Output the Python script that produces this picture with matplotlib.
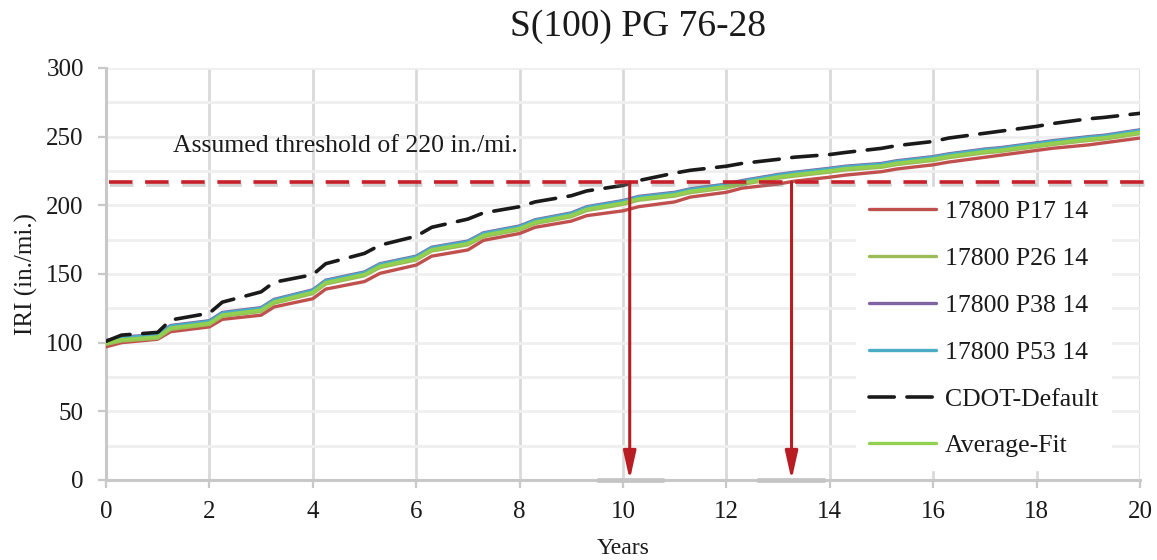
import matplotlib
matplotlib.use("Agg")
import matplotlib.pyplot as plt
import matplotlib.patheffects as pe
from matplotlib.ticker import MultipleLocator


plt.rcParams["font.family"] = ["Liberation Serif", "DejaVu Serif"]

TITLE = "S(100) PG 76-28"
THRESHOLD = 217
THRESHOLD_TEXT = "Assumed threshold of 220 in./mi."
CROSS_YEARS = [10.13, 13.26]
AXIS_MARKS = [(9.5, 10.8), (12.6, 13.9)]

YEARS = [0, 0.3, 1, 1.25, 2, 2.25, 3, 3.25, 4, 4.25, 5, 5.3, 6, 6.3, 7, 7.3,
         8, 8.3, 9, 9.3, 10, 10.3, 11, 11.3, 12, 12.3, 13, 13.3, 14, 14.3,
         15, 15.3, 16, 16.3, 17, 17.3, 18, 18.3, 19, 19.3, 20]

P17 = [97, 100, 102.5, 108, 111.5, 117, 120, 126, 132, 139, 144.5, 150.5,
       156.5, 163, 167.5, 174.5, 179.5, 184, 188.5, 192.5, 196, 199, 202.5,
       206, 209.5, 212.5, 215.5, 217.5, 220.5, 222, 224.5, 226.5, 229.5,
       231.5, 235, 236.5, 240, 241.5, 244, 245.5, 249]
P26 = [98.7, 101.2, 103.2, 109.7, 113.2, 119.2, 122.7, 128.7, 135.7, 142.7,
       148.7, 154.7, 160.2, 166.7, 171.2, 177.2, 182.2, 186.7, 191.7, 196.2,
       200.7, 203.7, 206.7, 209.2, 212.7, 215.2, 219.7, 221.2, 224.2, 225.7,
       227.7, 229.7, 232.7, 234.7, 238.2, 239.2, 242.7, 244.2, 247.2, 248.2,
       252.2]
P38 = [101.5, 104, 106, 112.5, 116, 122, 125.5, 131.5, 138.5, 145.5, 151.5,
       157.5, 163, 169.5, 174, 180, 185, 189.5, 194.5, 199, 203.5, 206.5,
       209.5, 212, 215.5, 218, 222.5, 224, 227, 228.5, 230.5, 232.5, 235.5,
       237.5, 241, 242, 245.5, 247, 250, 251, 255]
P53 = [101, 103.5, 105.5, 112, 115.5, 121.5, 125, 131, 138, 145, 151, 157,
       162.5, 169, 173.5, 179.5, 184.5, 189, 194, 198.5, 203, 206, 209, 211.5,
       215, 217.5, 222, 223.5, 226.5, 228, 230, 232, 235, 237, 240.5, 241.5,
       245, 246.5, 249.5, 250.5, 254.5]
CDOT = [101, 105.5, 107.5, 116.5, 121.5, 129.5, 137, 144, 149.5, 157.5, 165,
        171, 177.5, 184, 190, 194.5, 199, 202.5, 207, 210.5, 214.5, 218,
        223.5, 225.5, 228.5, 230.5, 233.5, 235, 237, 238.5, 241.5, 243.5,
        246.5, 249, 252.5, 254, 257.5, 259.5, 263, 264, 267]
AVG_FIT = [99.7, 102.2, 104.2, 110.7, 114.2, 120.2, 123.7, 129.7, 136.7,
           143.7, 149.7, 155.7, 161.2, 167.7, 172.2, 178.2, 183.2, 187.7,
           192.7, 197.2, 201.7, 204.7, 207.7, 210.2, 213.7, 216.2, 220.7,
           222.2, 225.2, 226.7, 228.7, 230.7, 233.7, 235.7, 239.2, 240.2,
           243.7, 245.2, 248.2, 249.2, 253.2]

SERIES = [
    ("17800 P17 14", P17, "#C0504D", "-"),
    ("17800 P26 14", P26, "#9BBB59", "-"),
    ("17800 P38 14", P38, "#8064A2", "-"),
    ("17800 P53 14", P53, "#4BACC6", "-"),
    ("CDOT-Default", CDOT, "#1A1A1A", "--"),
    ("Average-Fit", AVG_FIT, "#92D050", "-"),
]

TEXT = "#1A1A1A"
ARROW_RED = "#B81D24"

fig = plt.figure(figsize=(11.57, 5.6), dpi=100)
ax = fig.add_axes([106 / 1157, 80 / 560, 1034 / 1157, 412 / 560])

for label, vals, color, ls in SERIES:
    if ls == "--":
        ax.plot(YEARS, vals, color=color, lw=2.6, ls=(0, (7, 3.5)),
                label=label, zorder=4, dash_capstyle="round",
                dash_joinstyle="round")
    else:
        ax.plot(YEARS, vals, color=color, lw=2.4, label=label, zorder=3,
                solid_joinstyle="round", solid_capstyle="round")

# threshold line
shadow = [pe.SimpleLineShadow(offset=(1, -2), shadow_color="gray", alpha=0.35),
          pe.Normal()]
ax.plot([0.05, 20.2], [THRESHOLD, THRESHOLD], color="#C8202A", lw=2.6,
        ls=(0, (6.5, 3.5)), clip_on=False, zorder=5, path_effects=shadow)
ax.text(1.3, 243, THRESHOLD_TEXT, fontsize=18.5, color=TEXT, va="center")

# grey marks on the year axis under the arrows
for x0, x1 in AXIS_MARKS:
    ax.plot([x0, x1], [0, 0], color="#C4C4C4", lw=3.4, solid_capstyle="butt",
            clip_on=False, zorder=5)

# arrows down to the year axis
for yr in CROSS_YEARS:
    ax.annotate("", xy=(yr, 0), xytext=(yr, THRESHOLD),
                arrowprops=dict(arrowstyle="-|>,head_length=1.7,head_width=0.38",
                                color=ARROW_RED, lw=2.2, shrinkA=0, shrinkB=0),
                zorder=6)

ax.set_xlim(0, 20)
ax.set_ylim(0, 300)
ax.xaxis.set_major_locator(MultipleLocator(2))
ax.yaxis.set_major_locator(MultipleLocator(50))
ax.yaxis.set_minor_locator(MultipleLocator(25))

ax.grid(axis="x", which="major", color="#D9D9D9", lw=2)
ax.grid(axis="y", which="both", color="#EFEFEF", lw=2)
ax.set_axisbelow(True)

for side in ["top", "right"]:
    ax.spines[side].set_visible(False)
for side in ["left", "bottom"]:
    ax.spines[side].set_color("#C8C8C8")
    ax.spines[side].set_linewidth(2.2)

ax.tick_params(axis="both", which="major", length=6, width=1.6,
               color="#C8C8C8", labelsize=18, labelcolor=TEXT)
ax.tick_params(axis="y", which="minor", length=0)
ax.tick_params(axis="y", pad=10)
ax.tick_params(axis="x", pad=9)

ax.set_xlabel("Years", fontsize=17, color=TEXT, labelpad=11)
ax.set_ylabel("IRI (in./mi.)", fontsize=18, color=TEXT, labelpad=6)
fig.text(0.551, 0.952, TITLE, fontsize=27, color=TEXT, ha="center", va="center")

leg = ax.legend(loc="center left", bbox_to_anchor=(0.740, 0.413),
                bbox_transform=fig.transFigure, fontsize=18.5, frameon=True,
                handlelength=2.6, handletextpad=0.35, labelspacing=0.93,
                borderpad=0.5, borderaxespad=0)
leg.get_frame().set_facecolor("white")
leg.get_frame().set_edgecolor("white")
leg.get_frame().set_alpha(1)
leg.get_frame().set_boxstyle("square", pad=0)
for t in leg.get_texts():
    t.set_color(TEXT)

fig.savefig("out.png", dpi=100)
